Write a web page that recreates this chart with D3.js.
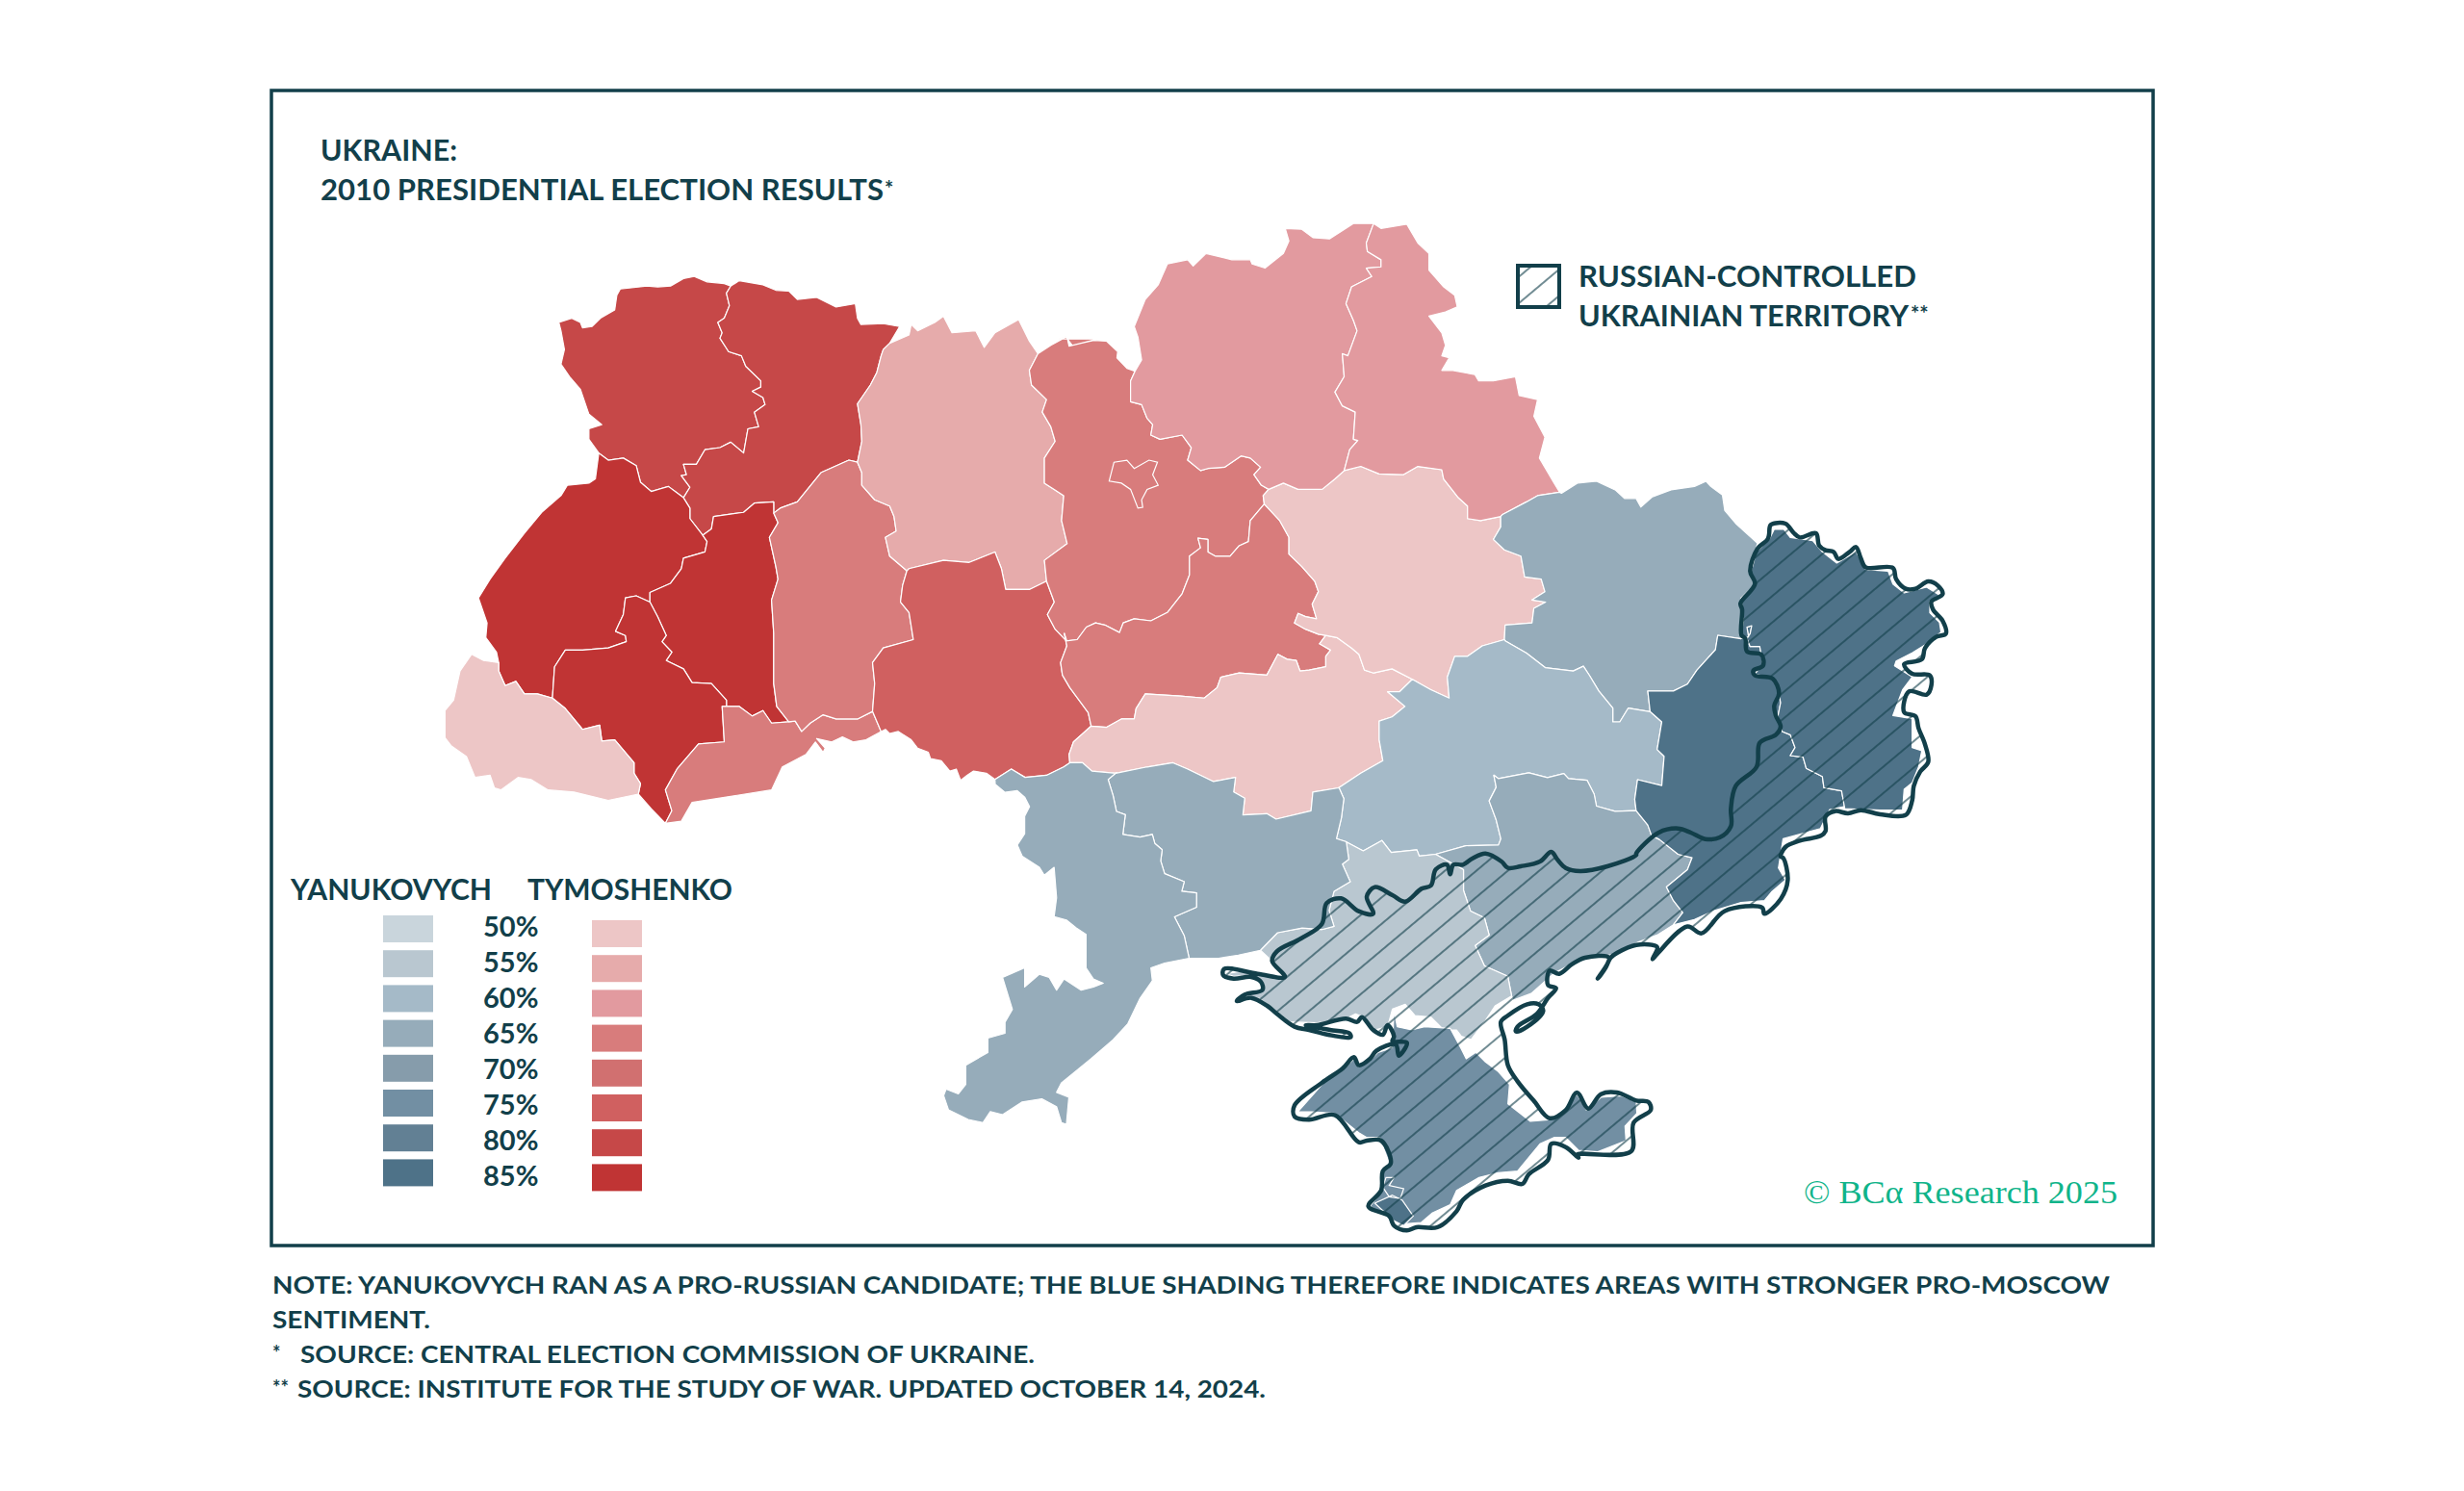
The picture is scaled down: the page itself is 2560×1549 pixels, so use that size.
<!DOCTYPE html>
<html>
<head>
<meta charset="utf-8">
<script src="https://cdn.jsdelivr.net/npm/d3@7"></script>
<style>
body { margin: 0; background: #fff; }
text { font-family: Lato, "Open Sans", sans-serif; font-weight: 700; fill: #123f4a; }
</style>
</head>
<body>
<div id="chart"></div>
<script>
// legend steps
let shareSteps = [50, 55, 60, 65, 70, 75, 80, 85];
let blueColors = ["#c9d5dc", "#b9c7d0", "#a5bac8", "#96acba", "#869cab", "#728fa3", "#628094", "#4e7288"];
let redColors = ["#edc6c6", "#e6abab", "#e29a9f", "#d87c7c", "#d17070", "#d06060", "#c64848", "#c03434"];

// oblasts: name, winner (Y / T), legend step of the winner
let regionNames = ["Volyn", "Rivne", "Lviv", "Ternopil", "Ivano-Frankivsk", "Zakarpattia", "Chernivtsi", "Khmelnytskyi", "Zhytomyr", "Vinnytsia", "Kyiv", "Cherkasy", "Kirovohrad", "Poltava", "Chernihiv", "Sumy", "Kharkiv", "Dnipropetrovsk", "Zaporizhzhia", "Donetsk", "Luhansk", "Kherson", "Mykolaiv", "Odesa", "Crimea", "Sevastopol"];
let regionWinner = ["T", "T", "T", "T", "T", "T", "T", "T", "T", "T", "T", "T", "T", "T", "T", "T", "Y", "Y", "Y", "Y", "Y", "Y", "Y", "Y", "Y", "Y"];
let regionShare = [80, 80, 85, 85, 85, 50, 65, 65, 55, 75, 65, 65, 50, 50, 60, 60, 65, 60, 65, 85, 85, 55, 65, 65, 75, 85];

// each border is traced on a reference crop: [left, top, width, height, trace units]
let crops = {
  w: [440, 220, 700, 680, 1568], n: [1100, 220, 600, 680, 1568], e: [1300, 500, 760, 560, 1568], s: [960, 780, 800, 520, 1568],
  a: [1280, 880, 420, 420, 1260], b: [1700, 530, 360, 360, 1080]
};

let borders = {
  volynNorth: ["w", [[315,265],[345,255],[365,265],[370,278],[392,275],[412,255],[445,235],[450,200],[458,185],[520,178],[545,180],[575,178],[605,160],[630,155],[660,168],[700,172],[715,178]]],
  volynRivne: ["w", [[715,178],[705,195],[712,225],[700,255],[685,265],[695,290],[690,303],[710,335],[740,345],[750,370],[785,405],[785,420],[765,430],[790,445],[795,462],[770,480],[780,515],[755,520],[745,578],[715,552],[690,565],[655,570],[635,605],[605,605],[612,630],[600,632],[620,660],[605,685]]],
  volynLviv: ["w", [[408,578],[430,595],[465,590],[495,608],[505,648],[530,670],[570,658],[605,685]]],
  volynWest: ["w", [[408,578],[385,545],[385,520],[415,510],[385,485],[365,425],[340,395],[320,365],[328,330],[320,285],[315,265]]],
  rivneNorth: ["w", [[715,178],[735,165],[790,175],[820,188],[850,190],[870,210],[915,205],[960,228],[1005,220],[1010,255],[1018,270],[1070,268],[1108,275],[1085,315],[1070,330]]],
  rivneZhyt: ["w", [[1070,330],[1065,345],[1055,385],[1040,415],[1010,460],[1018,510],[1020,550],[1010,600]]],
  rivneKhm: ["w", [[1010,600],[990,595],[925,625],[870,695],[830,710],[815,722]]],
  rivneTern: ["w", [[815,722],[815,695],[770,698],[745,720],[675,730],[670,760],[650,775]]],
  rivneLviv: ["w", [[650,775],[620,735],[620,710],[605,685]]],
  lvivWest: ["w", [[408,578],[400,640],[385,650],[335,655],[320,680],[275,720],[235,770],[190,830],[155,880],[128,925],[148,985],[145,1020],[170,1055],[175,1080]]],
  lvivZak: ["w", [[175,1080],[175,1100],[190,1135],[215,1125],[235,1155],[265,1155],[300,1165]]],
  lvivIF: ["w", [[300,1165],[305,1090],[330,1050],[370,1050],[430,1045],[472,1030],[470,1015],[447,1005],[465,965],[470,925],[495,920],[527,935]]],
  lvivTern: ["w", [[527,935],[527,912],[575,890],[600,855],[605,830],[655,815],[660,790],[650,775]]],
  ternKhm: ["w", [[815,722],[825,745],[805,780],[820,850],[825,880],[810,930],[815,1010],[815,1130],[822,1185],[850,1222]]],
  ternChern: ["w", [[850,1222],[810,1225],[790,1195],[765,1208],[735,1185],[705,1185]]],
  ternIF: ["w", [[705,1185],[705,1170],[670,1130],[625,1128],[605,1095],[565,1075],[578,1055],[555,1030],[565,1015],[545,970],[527,935]]],
  ifZak: ["w", [[300,1165],[330,1190],[370,1240],[410,1230],[415,1268],[445,1265],[490,1320],[490,1345],[505,1370],[500,1395]]],
  ifSouth: ["w", [[500,1395],[530,1430],[563,1465]]],
  ifChern: ["w", [[563,1465],[578,1435],[563,1385],[590,1335],[640,1275],[700,1270],[695,1185],[705,1185]]],
  zakOuter: ["w", [[500,1395],[430,1410],[350,1390],[290,1385],[250,1360],[220,1355],[180,1385],[165,1380],[155,1350],[120,1355],[100,1305],[65,1280],[50,1260],[50,1195],[70,1170],[85,1100],[112,1060],[140,1075],[175,1080]]],
  chernSouth: ["w", [[563,1465],[600,1460],[625,1415],[730,1398],[810,1385],[835,1330],[890,1300],[912,1270],[930,1295],[935,1285],[915,1262],[950,1270],[975,1258],[1000,1270],[1030,1265],[1065,1245]]],
  vinChern: ["w", [[1065,1245],[1045,1197]]],
  khmChern: ["w", [[1045,1197],[1010,1215],[960,1215],[930,1205],[900,1225],[880,1245],[865,1220],[850,1222]]],
  khmZhyt: ["w", [[1010,600],[1020,625],[1020,655],[1050,690],[1085,705],[1095,730],[1100,765],[1075,780],[1085,825],[1125,860]]],
  khmVin: ["w", [[1125,860],[1115,895],[1110,935],[1130,960],[1140,1025],[1070,1045],[1045,1080],[1050,1130],[1045,1197]]],
  zhytNorth: ["w", [[1070,330],[1085,315],[1130,295],[1135,270],[1150,285],[1190,265],[1210,250],[1230,290],[1285,285],[1305,325],[1330,290],[1385,258],[1410,310],[1430,340]]],
  zhytKyiv: ["w", [[1430,340],[1410,380],[1415,415],[1450,450],[1440,480],[1460,515],[1470,550],[1445,590],[1445,650],[1490,680],[1485,740],[1498,795],[1445,835],[1450,885]]],
  zhytVin: ["w", [[1450,885],[1410,905],[1355,905],[1345,855],[1330,815],[1270,840],[1210,835],[1130,855],[1125,860]]],
  kyivVin: ["w", [[1450,885],[1468,935],[1452,965],[1470,1000],[1498,1030]]],
  vinOdesa: ["w", [[1490,1330],[1450,1350],[1400,1355],[1368,1335],[1330,1360]]],
  vinMoldova: ["w", [[1330,1360],[1310,1345],[1280,1340],[1265,1350],[1250,1362],[1240,1335],[1225,1340],[1205,1315],[1180,1310],[1175,1295],[1150,1285],[1135,1265],[1105,1245],[1085,1250],[1075,1240],[1065,1245]]],
  kyivNorthW: ["w", [[1430,340],[1460,320],[1495,300],[1510,320],[1568,305]]],
  kyivNorthN: ["n", [[0,305],[22,298],[28,322],[60,315],[95,308],[130,310],[160,335],[158,350],[185,375],[207,382]]],
  kyivChernihiv: ["n", [[207,382],[195,405],[195,455],[225,462],[240,495],[255,510],[250,535],[275,545],[335,535],[360,565],[350,595],[385,620],[405,615],[450,612],[495,585],[520,590],[548,612],[530,630],[550,655],[570,665]]],
  kyivPoltava: ["n", [[570,665],[555,680],[558,700]]],
  kyivCherkasy: ["n", [[558,700],[520,740],[515,790],[490,800],[465,825],[425,825],[405,815],[405,785],[378,782],[385,805],[355,825],[355,870],[335,915],[295,960],[250,980],[205,975],[175,985],[165,1008],[125,990],[100,985],[75,995],[50,1025],[20,1028],[15,1010]]],
  vinCher: ["n", [[15,1010],[22,1040],[5,1080],[10,1110],[30,1140],[55,1170],[80,1200],[88,1232]]],
  vinKir: ["n", [[88,1232],[40,1270],[28,1300],[30,1320]]],
  cherPoltava: ["n", [[558,700],[600,740],[625,780],[625,820],[660,850],[695,885],[705,910],[688,940],[700,975],[670,970],[650,962],[640,985],[670,1000],[705,1012],[725,1015]]],
  cherKir: ["n", [[725,1015],[708,1035],[738,1050],[725,1065],[725,1090],[680,1098],[655,1100],[645,1075],[620,1072],[595,1060],[565,1110],[490,1105],[440,1115],[430,1140],[395,1165],[330,1160],[235,1155],[210,1190],[205,1215],[170,1215],[130,1235],[88,1232]]],
  kirPoltava: ["n", [[725,1015],[755,1020],[795,1045],[815,1060],[830,1098],[855,1105],[905,1095],[960,1120]]],
  kirDnipro: ["n", [[960,1120],[925,1150],[893,1150],[940,1185],[905,1210],[870,1220],[870,1265],[880,1315],[820,1345],[760,1380]]],
  kirMyk: ["n", [[760,1380],[690,1390],[685,1435],[590,1455],[565,1442],[500,1445],[505,1405],[475,1390],[480,1355],[420,1365],[350,1335],[310,1320],[240,1330],[155,1345]]],
  kirOdesa: ["n", [[155,1345],[90,1340],[65,1320],[30,1320]]],
  polChern: ["n", [[570,665],[610,650],[650,665],[715,665],[750,640],[775,620]]],
  polSumy: ["n", [[775,620],[820,610],[870,628],[935,630],[975,610],[1040,618],[1045,640],[1085,685],[1110,705],[1110,735],[1145,740],[1200,730]]],
  polKharkiv: ["n", [[1200,730],[1200,755],[1180,785],[1210,810],[1255,825],[1265,875],[1310,880],[1320,910],[1285,930],[1322,935],[1290,950],[1285,985],[1212,990],[1210,1025]]],
  polDnipro: ["n", [[1210,1025],[1150,1040],[1110,1065],[1075,1065],[1055,1115],[1060,1165],[1010,1145],[960,1120]]],
  chernihivNorth: ["n", [[207,382],[225,355],[215,300],[205,275],[235,210],[270,175],[295,125],[350,115],[365,130],[400,100],[470,115],[520,115],[525,125],[560,135],[610,100],[625,70],[615,40],[660,42],[690,62],[735,65],[800,28],[855,28]]],
  chernihivSumy: ["n", [[855,28],[835,75],[838,95],[875,115],[875,132],[835,135],[850,155],[795,180],[780,220],[800,260],[810,285],[785,345],[770,340],[775,395],[750,432],[770,465],[805,480],[800,545],[812,548],[790,570],[775,620]]],
  sumyNorth: ["n", [[855,28],[875,40],[945,30],[975,75],[1005,100],[1005,140],[1045,180],[1075,200],[1082,228],[1050,240],[1005,250],[1040,290],[1050,320],[1040,345],[1060,350],[1040,380],[1070,380],[1130,390],[1140,405],[1180,405],[1240,395],[1250,440],[1300,450],[1290,490],[1320,540],[1305,590],[1345,650],[1360,672]]],
  sumyKharkiv: ["n", [[1360,672],[1300,680],[1270,695],[1205,725],[1200,730]]],
  kharkivNorth: ["e", [[665,35],[700,5],[740,0],[780,25],[800,50],[825,50],[835,75],[860,45],[900,25],[950,15],[975,0],[985,15],[1010,40],[1015,85],[1040,125],[1085,180]]],
  kharkivLuhansk: ["e", [[1085,180],[1078,230],[1070,270],[1080,300],[1050,340],[1055,400],[1050,458]]],
  kharkivDonetsk: ["e", [[1050,458],[1000,448],[995,490],[975,520],[955,550],[935,590],[905,610],[850,610],[855,670]]],
  kharkivDnipro: ["e", [[855,670],[808,660],[790,700],[775,700],[775,660],[745,610],[725,565],[712,538],[690,552],[630,542],[590,500],[545,465]]],
  dniproDonetsk: ["e", [[855,670],[880,700],[870,780],[885,800],[880,885],[828,868],[822,925],[825,958]]],
  dniZap: ["e", [[395,1085],[460,1060],[530,1058],[535,1040],[525,985],[510,930],[525,890],[520,855],[530,865],[595,848],[635,862],[670,850],[680,865],[720,870],[735,910],[740,945],[780,960],[825,958]]],
  dniKherson: ["e", [[205,1050],[240,1075],[280,1045],[300,1080],[355,1072],[360,1090],[395,1085]]],
  zapDonetsk: ["e", [[825,958],[850,1000],[858,1030],[875,1042],[915,1085],[945,1095],[935,1130],[890,1180],[905,1220],[925,1255],[905,1290]]],
  zapCoast: ["e", [[905,1290],[870,1320],[830,1340],[780,1375],[700,1395],[650,1430],[600,1490],[560,1510]]],
  zapKherson: ["e", [[395,1085],[455,1130],[455,1190],[470,1250],[500,1270],[510,1320],[480,1350],[500,1410],[550,1440],[560,1510]]],
  donLuhansk: ["b", [[327,400],[350,395],[345,365],[360,360],[355,385],[345,400],[355,425],[385,425],[395,480],[370,510],[425,525],[440,550],[450,600],[440,650],[455,690],[480,700],[495,740],[480,765],[520,770],[530,805],[580,830],[585,865],[640,875],[650,930]]],
  donBorder: ["e", [[1275,945],[1240,955],[1220,1010],[1140,1040],[1130,1125],[1145,1160],[1115,1195],[1100,1220],[1050,1225],[990,1250],[950,1275],[905,1290]]],
  luhanskOuter: ["b", [[378,103],[375,130],[415,90],[430,60],[460,60],[480,85],[550,95],[580,130],[625,165],[685,130],[715,185],[785,190],[800,230],[835,258],[905,240],[945,265],[915,285],[915,320],[945,350],[950,380],[900,420],[860,445],[810,470],[805,485],[860,520],[830,560],[800,640],[860,650],[860,740],[890,750],[880,800],[860,850],[835,870],[830,935],[760,935],[650,930]]],
  khersonSouth: ["a", [[870,465],[820,495],[790,540],[745,600],[715,590],[700,570],[660,570],[620,530],[570,525],[540,490],[500,505],[485,560],[445,570],[410,530],[385,520],[355,535],[265,548],[180,545],[135,510],[85,472],[45,468],[95,440],[85,415],[55,400],[5,403],[-20,395],[40,385],[85,395],[160,400],[130,360],[87,320]]],
  mykKherson: ["s", [[685,625],[720,570],[770,555],[810,560],[835,550],[825,500],[835,440],[868,410],[852,355],[865,340],[860,285]]],
  mykDnipro: ["s", [[860,285],[840,275],[850,210],[855,150],[845,115]]],
  mykCoast: ["s", [[685,625],[640,640],[600,650],[540,650]]],
  odesaMyk: ["s", [[540,650],[530,580],[510,520],[555,490],[555,445],[525,440],[530,410],[490,385],[482,345],[485,310],[470,290],[465,262],[440,270],[405,262],[410,200],[392,190],[385,140],[375,90],[392,68]]],
  odesaCoast: ["s", [[145,105],[165,130],[190,125],[205,145],[215,175],[205,205],[205,260],[190,295],[200,330],[235,365],[245,390],[265,365],[270,460],[265,520],[290,530],[310,555],[330,575],[330,680],[345,715],[365,728],[345,740],[320,750],[285,715],[270,750],[255,710],[235,700],[205,740],[205,680],[160,710],[180,810],[165,850],[165,885],[130,900],[130,945],[85,985],[85,1045],[70,1075],[45,1060],[40,1080],[50,1125],[90,1155],[120,1165],[135,1130],[160,1140],[200,1100],[240,1090],[270,1115],[280,1165],[290,1170],[295,1085],[270,1070],[280,1040],[340,965],[385,905],[415,855],[440,775],[465,720],[462,680],[490,665],[540,650]]],
  crimeaRing: ["a", [[205,825],[285,735],[345,695],[380,660],[395,685],[430,665],[455,640],[500,625],[505,510],[515,560],[560,570],[600,560],[680,565],[715,630],[730,660],[760,640],[790,670],[830,700],[865,740],[860,800],[930,855],[985,850],[1040,815],[1075,770],[1105,820],[1150,780],[1215,775],[1260,795],[1262,830],[1225,870],[1228,915],[1140,950],[1080,945],[1040,905],[1005,905],[960,925],[890,1010],[830,1015],[770,1030],[700,1070],[680,1115],[625,1140],[590,1170],[530,1175],[500,1160],[430,1120],[465,1075],[465,1010],[490,985],[460,905],[420,905],[395,890],[320,830],[250,825],[205,825]]],
  sevastopolRing: ["a", [[445,1110],[500,1085],[530,1100],[565,1150],[535,1180],[505,1165],[445,1110]]],
  crimeaInner: ["a", [[470,1060],[480,1030],[505,1030],[490,1055],[535,1065],[525,1095],[490,1090],[470,1060]]],
  kyivCity: ["n", [[137,645],[150,600],[185,595],[205,615],[245,595],[268,600],[255,630],[270,655],[240,665],[225,690],[228,708],[215,710],[195,665],[170,650],[137,645]]],
  occOuterB: ["b", [[415,60],[420,45],[465,42],[490,70],[510,85],[560,72],[570,110],[590,125],[615,130],[630,152],[665,130],[685,115],[700,150],[715,178],[800,180],[810,215],[840,245],[870,245],[910,222],[940,235],[955,262],[920,285],[925,310],[955,345],[965,385],[935,395],[900,430],[890,465],[835,480],[860,510],[915,515],[920,545],[905,575],[850,565],[835,630],[870,642],[880,680],[900,730],[910,785],[885,815],[865,860],[860,905],[840,950],[760,948],[700,935],[660,945],[620,938],[590,955],[590,1000],[575,1015],[510,1030],[465,1050],[450,1080]]],
  occCoastE: ["e", [[1140,1095],[1150,1160],[1135,1215],[1100,1258],[1095,1240],[1015,1250],[965,1315],[935,1295],[870,1375],[860,1390],[870,1355]]],
  occCoastA: ["a", [[1260,305],[1200,330],[1180,345],[1165,375],[1140,410],[1175,345],[1100,345],[1060,365],[1020,395],[990,385],[985,430],[1010,440],[985,470],[950,520],[890,560],[885,575],[920,560],[970,510],[955,490],[920,490],[860,525],[838,545],[850,600],[860,680],[890,730],[940,790],[990,845],[1040,820],[1075,765],[1110,815],[1150,770],[1200,765],[1260,790]]],
  occKerch: ["s", [[1475,1100],[1480,1125],[1445,1165],[1440,1255],[1330,1265]]],
  occSouthA: ["a", [[1080,968],[1040,935],[995,925],[985,975],[925,1020],[905,1050],[860,1040],[790,1055],[720,1100],[700,1135],[640,1185],[575,1185],[545,1195],[505,1180],[490,1150],[425,1120],[465,1070],[470,1010],[495,985],[465,915],[420,915],[395,920],[320,835],[240,850],[195,840],[195,805],[280,735],[345,690],[380,655],[395,680],[430,660],[450,635],[510,615],[520,650],[545,610],[500,605],[505,590],[485,555],[470,585],[440,570],[405,530],[390,545],[355,535],[265,555],[230,555],[305,570],[365,580],[370,592],[300,585],[240,570],[195,560],[140,520],[110,495],[60,470],[15,480],[40,460],[95,445],[90,420],[60,405],[5,410],[-27,400],[-25,380],[80,395],[165,405],[125,355],[140,325],[215,285],[280,240],[295,175],[340,160],[395,200],[440,208],[420,155],[445,125],[500,150],[540,170],[590,130],[620,120],[635,70],[670,55],[680,85],[690,55],[720,55],[750,35],[790,20],[840,45],[860,65],[900,60],[960,45],[995,15],[1015,40],[1040,65],[1085,75],[1170,60],[1260,25]]],
  occFrontB: ["b", [[0,1070],[70,1005],[130,992],[170,1005],[215,1025],[260,1020],[295,985],[295,930],[310,860],[375,800],[385,725],[435,700],[450,675],[435,640],[430,610],[445,570],[425,525],[370,515],[365,500],[395,485],[390,450],[345,440],[340,400],[328,390],[330,310],[325,290],[370,230],[355,190],[378,120],[410,90],[415,60]]]
};

// which borders close each oblast, a leading "-" walks the border backwards
let regionBorders = [
  ["volynNorth", "volynRivne", "-volynLviv", "volynWest"],
  ["rivneNorth", "rivneZhyt", "rivneKhm", "rivneTern", "rivneLviv", "-volynRivne"],
  ["lvivWest", "lvivZak", "lvivIF", "lvivTern", "rivneLviv", "-volynLviv"],
  ["-rivneTern", "ternKhm", "ternChern", "ternIF", "lvivTern"],
  ["-lvivIF", "ifZak", "ifSouth", "ifChern", "ternIF"],
  ["lvivZak", "ifZak", "zakOuter"],
  ["-ifChern", "chernSouth", "vinChern", "khmChern", "ternChern"],
  ["-rivneKhm", "khmZhyt", "khmVin", "khmChern", "-ternKhm"],
  ["-rivneZhyt", "zhytNorth", "zhytKyiv", "zhytVin", "-khmZhyt"],
  ["-zhytVin", "kyivVin", "vinCher", "vinKir", "vinOdesa", "vinMoldova", "vinChern", "-khmVin"],
  ["kyivNorthW", "kyivNorthN", "kyivChernihiv", "kyivPoltava", "kyivCherkasy", "-kyivVin", "-zhytKyiv"],
  ["-kyivCherkasy", "cherPoltava", "cherKir", "-vinCher"],
  ["-cherKir", "kirPoltava", "kirDnipro", "kirMyk", "kirOdesa", "-vinKir"],
  ["-kyivPoltava", "polChern", "polSumy", "polKharkiv", "polDnipro", "-kirPoltava", "-cherPoltava"],
  ["chernihivNorth", "chernihivSumy", "-polChern", "-kyivChernihiv"],
  ["sumyNorth", "sumyKharkiv", "-polSumy", "-chernihivSumy"],
  ["kharkivNorth", "kharkivLuhansk", "kharkivDonetsk", "kharkivDnipro", "-polKharkiv", "-sumyKharkiv"],
  ["-kharkivDnipro", "dniproDonetsk", "-dniZap", "-dniKherson", "mykDnipro", "-kirDnipro", "-polDnipro"],
  ["dniZap", "zapDonetsk", "zapCoast", "-zapKherson"],
  ["-kharkivDonetsk", "donLuhansk", "donBorder", "-zapDonetsk", "-dniproDonetsk"],
  ["-kharkivLuhansk", "luhanskOuter", "-donLuhansk"],
  ["dniKherson", "zapKherson", "khersonSouth", "mykKherson"],
  ["-mykKherson", "mykCoast", "odesaMyk", "-kirMyk", "-mykDnipro"],
  ["odesaCoast", "odesaMyk", "kirOdesa", "vinOdesa"],
  ["crimeaRing"],
  ["sevastopolRing"]
];
let occupiedBorders = ["occOuterB", "occCoastE", "occCoastA", "occKerch", "occSouthA", "occFrontB"];

let footnotes = [
  "NOTE: YANUKOVYCH RAN AS A PRO-RUSSIAN CANDIDATE; THE BLUE SHADING THEREFORE INDICATES AREAS WITH STRONGER PRO-MOSCOW",
  "SENTIMENT.",
  "SOURCE: CENTRAL ELECTION COMMISSION OF UKRAINE.",
  "SOURCE: INSTITUTE FOR THE STUDY OF WAR. UPDATED OCTOBER 14, 2024."
];

let dark = "#123f4a";
let svg = d3.select("#chart").append("svg").attr("width", 2560).attr("height", 1549);
let defs = svg.append("defs");

// trace units on a crop to page pixels
function toPage(point, crop) {
  let c = crops[crop];
  let x = d3.scaleLinear().domain([0, c[4]]).range([c[0], c[0] + c[2]]);
  let y = d3.scaleLinear().domain([0, c[4]]).range([c[1], c[1] + c[3]]);
  return [x(point[0]), y(point[1])];
}

function walk(names) {
  let ring = [];
  names.forEach(function(n) {
    let back = n[0] == "-";
    let b = borders[back ? n.slice(1) : n];
    let pts = b[1].map(function(p) { return toPage(p, b[0]); });
    if (back) pts.reverse();
    ring = ring.concat(pts);
  });
  ring.push(ring[0]);
  return ring;
}

function addHatch(id, x, y, gap) {
  let p = defs.append("pattern").attr("id", id)
    .attr("patternUnits", "userSpaceOnUse")
    .attr("width", gap).attr("height", gap)
    .attr("patternTransform", "translate(" + x + "," + y + ") rotate(-40)");
  [0, gap].forEach(function(ly) {
    p.append("line").attr("x1", 0).attr("x2", gap).attr("y1", ly).attr("y2", ly)
      .attr("stroke", dark).attr("stroke-width", 1.2);
  });
}
addHatch("hatch", 1813, 643, 21);
addHatch("hatchKey", 1578, 315, 21);

let blue = d3.scaleOrdinal().domain(shareSteps).range(blueColors);
let red = d3.scaleOrdinal().domain(shareSteps).range(redColors);

// frame
svg.append("rect").attr("x", 282).attr("y", 94).attr("width", 1955).attr("height", 1200)
  .attr("fill", "none").attr("stroke", dark).attr("stroke-width", 3.5);

// oblasts
let geoPath = d3.geoPath();
let regions = regionNames.map(function(name, i) {
  return { type: "Feature", properties: { name: name, winner: regionWinner[i], share: regionShare[i] },
    geometry: { type: "Polygon", coordinates: [walk(regionBorders[i])] } };
});
svg.append("g").selectAll("path")
  .data(regions)
  .enter().append("path")
  .attr("d", geoPath)
  .attr("fill", function(d) { return d.properties.winner == "Y" ? blue(d.properties.share) : red(d.properties.share); })
  .attr("stroke", "#fff").attr("stroke-width", 1.2).attr("stroke-linejoin", "round");

// Kyiv city and the small Crimean outline, same colour as the area round them
["kyivCity", "crimeaInner"].forEach(function(n) {
  svg.append("path")
    .attr("d", geoPath({ type: "Polygon", coordinates: [walk([n])] }))
    .attr("fill", "none").attr("stroke", "#fff").attr("stroke-width", 1.2);
});

// occupied territory, the outline in the reference is a soft curve
let occupiedLine = d3.line().curve(d3.curveCatmullRomClosed.alpha(0.5));
svg.append("path")
  .attr("d", occupiedLine(walk(occupiedBorders).slice(0, -1)))
  .attr("fill", "url(#hatch)").attr("stroke", dark).attr("stroke-width", 4.5).attr("stroke-linejoin", "round");

function label(x, y, str, size, width) {
  let t = svg.append("text").attr("x", x).attr("y", y).attr("font-size", size).text(str);
  if (width) t.attr("textLength", width).attr("lengthAdjust", "spacingAndGlyphs");
  return t;
}

// titles
label(333, 167, "UKRAINE:", 30, 142);
label(333, 208, "2010 PRESIDENTIAL ELECTION RESULTS", 30, 585);
label(919, 204, "*", 22);

// hatch key
svg.append("rect").attr("x", 1577).attr("y", 276).attr("width", 43).attr("height", 43)
  .attr("fill", "url(#hatchKey)").attr("stroke", dark).attr("stroke-width", 4);
label(1640, 298, "RUSSIAN-CONTROLLED", 30, 351);
label(1640, 339, "UKRAINIAN TERRITORY", 30, 343);
label(1985, 334, "**", 22);

// legend
label(302, 935, "YANUKOVYCH", 30, 209);
label(548, 935, "TYMOSHENKO", 30, 213);
svg.append("g").selectAll("rect").data(shareSteps).enter().append("rect")
  .attr("x", 398).attr("width", 52).attr("height", 28)
  .attr("y", function(d, i) { return 951 + i * 36.2; })
  .attr("fill", function(d) { return blue(d); });
svg.append("g").selectAll("rect").data(shareSteps).enter().append("rect")
  .attr("x", 615).attr("width", 52).attr("height", 28)
  .attr("y", function(d, i) { return 956 + i * 36.2; })
  .attr("fill", function(d) { return red(d); });
svg.append("g").selectAll("text").data(shareSteps).enter().append("text")
  .attr("x", 502).attr("font-size", 29)
  .attr("y", function(d, i) { return 973 + i * 37; })
  .text(function(d) { return d + "%"; });

// credit
label(1874, 1250, "© BCα Research 2025", 33, 326)
  .style("font-family", "'Liberation Serif', serif").style("font-weight", 400).style("fill", "#10b48a");

// notes
label(283, 1344, footnotes[0], 25, 1909);
label(283, 1380, footnotes[1], 25, 164);
label(283, 1413, "*", 20);
label(312, 1416, footnotes[2], 25, 763);
label(283, 1449, "**", 20);
label(309, 1452, footnotes[3], 25, 1006);
</script>
</body>
</html>
